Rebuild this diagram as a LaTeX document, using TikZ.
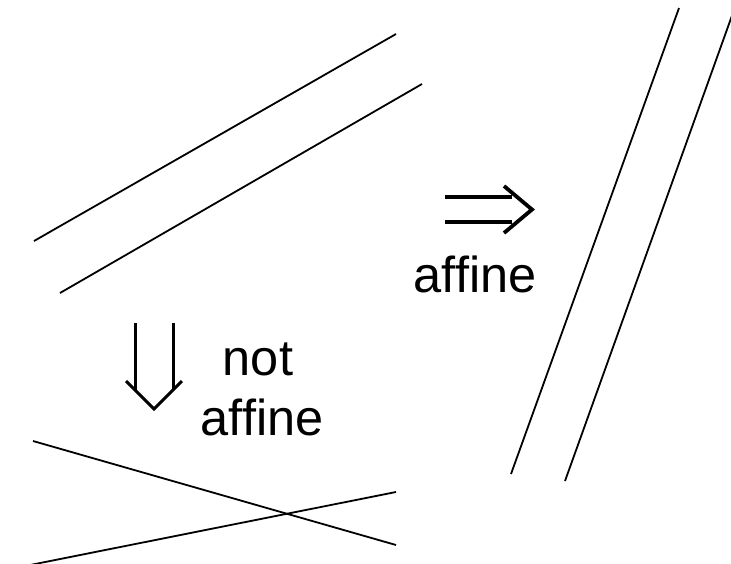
\documentclass[tikz,border=0pt]{standalone}
\usepackage{fontspec}
\setmainfont[Ligatures={NoCommon,NoRequired,NoContextual},RawFeature={-liga;-clig;-dlig}]{Liberation Sans}
\newcommand{\affw}{af\kern0ptf\kern0ptine}
\begin{document}
\begin{tikzpicture}[x=1pt,y=-1pt,
  ln/.style={line width=1.8pt},
  arr/.style={line width=3.8pt,line cap=butt,line join=miter},
  darr/.style={line width=3pt,line cap=butt,line join=miter},
  lbl/.style={font=\fontsize{50.5}{60}\selectfont,inner sep=0pt,anchor=base}]
\useasboundingbox (0,0) rectangle (731,563);
\clip (0,0) rectangle (731,563);
% upper left parallel lines
\draw[ln] (34,241) -- (396,34);
\draw[ln] (60,293) -- (422,84);
% right parallel lines
\draw[ln] (511,474) -- (679,8);
\draw[ln] (565,481) -- (734,10);
% bottom crossing lines
\draw[ln] (33,441) -- (396,545);
\draw[ln] (396,492) -- (0,571);
% right double arrow
\draw[arr] (445,197) -- (512,197);
\draw[arr] (445,222) -- (512,222);
\draw[arr] (504,186) -- (532,209.5) -- (504,233);
% down double arrow
\draw[darr] (135,323) -- (135,390);
\draw[darr] (173,323) -- (173,390);
\draw[darr] (126,381) -- (154,409) -- (182,381);
% labels
\node[lbl] (aff1) at (475,292) {\affw};
\node[lbl] (nt) at (258,375) {not};
\node[lbl] (aff2) at (262,435) {\affw};
\end{tikzpicture}
\end{document}
